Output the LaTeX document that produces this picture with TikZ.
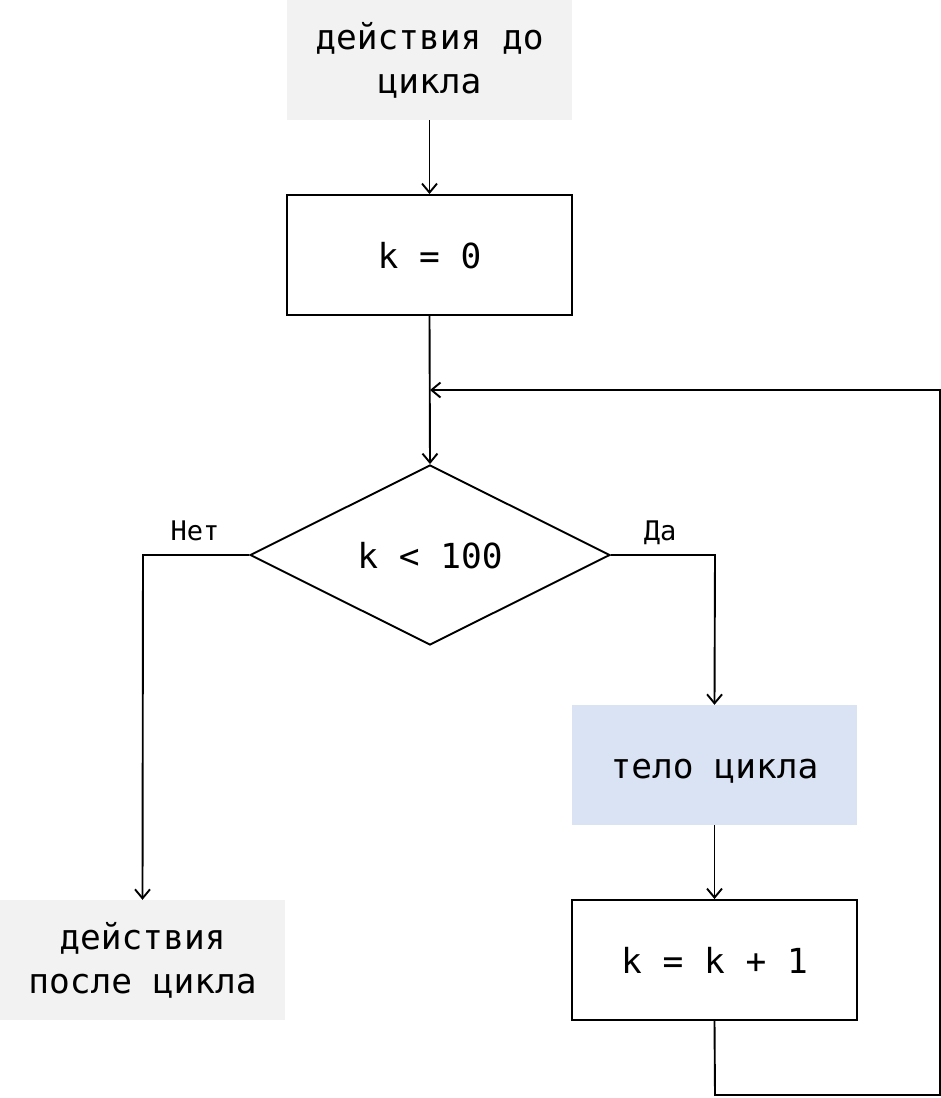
\documentclass[tikz,border=0pt]{standalone}
\usepackage{fontspec}
\newfontfamily\dmono{DejaVu Sans Mono}
\usetikzlibrary{arrows.meta,shapes.geometric}
\definecolor{greyfill}{HTML}{F2F2F2}
\definecolor{bluefill}{HTML}{DAE3F3}
\begin{document}
\begin{tikzpicture}[x=1pt,y=-1pt,
  every node/.style={font=\dmono\fontsize{34.5}{44}\selectfont, align=center, inner sep=0pt},
  blockbox/.style={rectangle, minimum width=285pt, minimum height=120pt},
  oneline/.style={text depth=0pt},
  greybox/.style={blockbox, fill=greyfill},
  bluebox/.style={blockbox, fill=bluefill},
  linebox/.style={blockbox, draw=black, line width=1.9pt},
  decision/.style={diamond, shape aspect=2, minimum width=360pt, minimum height=180pt, draw=black, line width=1.9pt},
  conn/.style={line width=1.9pt, draw=black},
  arr/.style={conn, -{Straight Barb[length=9pt,width=15pt,line width=1.9pt]}},
  lbl/.style={font=\dmono\fontsize{27}{32}\selectfont}
]
\useasboundingbox (0,0) rectangle (941,1098);

\node[greybox] (before) at (429.5,60) {действия до\\цикла};
\node[linebox, oneline] (init) at (429.5,255) {k = 0};
\node[decision, oneline] (cond) at (430,555) {k < 100};
\node[greybox] (after) at (142.5,960) {действия\\после цикла};
\node[bluebox, oneline, text height=26pt] (body) at (714.5,765) {тело цикла};
\node[linebox, oneline] (inc) at (714.5,960) {k = k + 1};

\coordinate (noTurn) at (143,555);
\coordinate (yesTurn) at (715,555);
\coordinate (loopA) at (715,1095);
\coordinate (loopB) at (940,1095);
\coordinate (loopC) at (940,390);
\coordinate (loopD) at (430,390);

\node[lbl, oneline] (noLbl) at (195,531) {Нет};
\node[lbl, oneline] (yesLbl) at (660,531) {Да};

\draw[arr] (before.south) -- (init.north);
\draw[arr] (init.south) -- (cond.north);
\draw[arr] (cond.west) -- (noTurn) -- (after.north);
\draw[arr] (cond.east) -- (yesTurn) -- (body.north);
\draw[arr] (body.south) -- (inc.north);
\draw[arr] (inc.south) -- (loopA) -- (loopB) -- (loopC) -- (loopD);
\end{tikzpicture}
\end{document}
